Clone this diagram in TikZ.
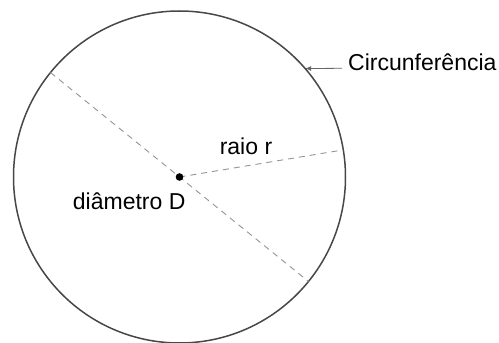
\documentclass[tikz,border=0pt]{standalone}
\usepackage{fontspec}
\setmainfont{Liberation Sans}
\usetikzlibrary{arrows.meta}
\begin{document}
\begin{tikzpicture}[x=1pt,y=1pt,
  rim/.style={draw=black!72,line width=1.5pt},
  dashline/.style={draw=black!42,line width=0.9pt,dash pattern=on 6pt off 5pt},
  pointer/.style={draw=black!60,line width=0.8pt,-{Latex[length=6pt,width=5pt]}},
  lbl/.style={inner sep=0pt,font=\fontsize{23}{27}\selectfont}]
\useasboundingbox (0,0) rectangle (499,343);
\coordinate (O) at (179.5,166);
\draw[rim] (O) circle[radius=166];
\coordinate (d1) at ([shift={(141:166)}]O);
\coordinate (d2) at ([shift={(-39:166)}]O);
\coordinate (r1) at ([shift={(9.4:166)}]O);
\coordinate (cp) at ([shift={(40.8:166)}]O);
\draw[dashline] (d1) -- (d2);
\draw[dashline] (O) -- (r1);
\fill[black] (O) circle[radius=3.8];
\node[lbl,anchor=base] (raio) at (246,188) {raio r};
\node[lbl,anchor=base] (diam) at (129.2,133.7) {diâmetro D};
\node[lbl,anchor=base west] (circ) at (348,272) {Circunferência};
\coordinate (as) at (342,274.7);
\draw[pointer] (as) -- (cp);
\end{tikzpicture}
\end{document}
